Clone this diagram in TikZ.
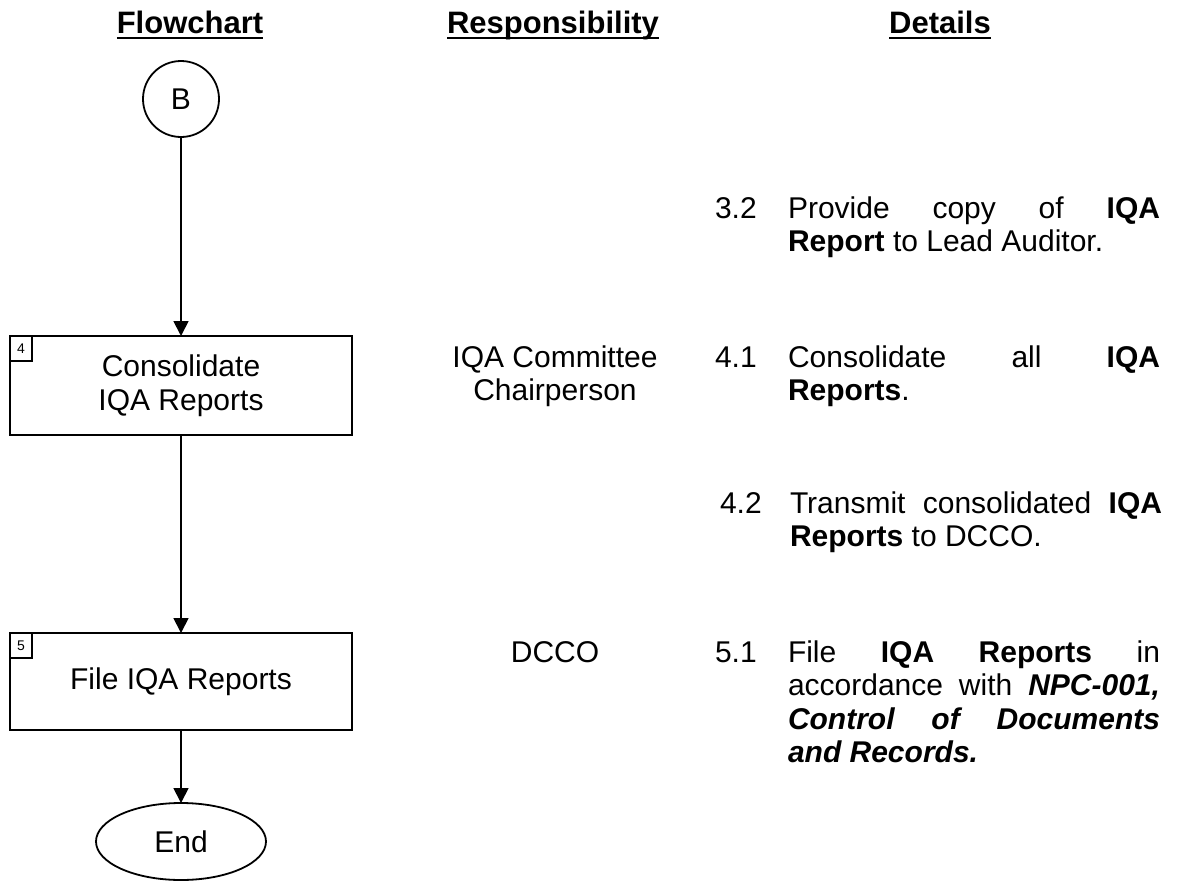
\documentclass[tikz,border=0pt]{standalone}
\usepackage{fontspec}
\setmainfont{Liberation Sans}
\usetikzlibrary{arrows.meta,shapes.geometric}
\tolerance=10000
\hbadness=10000
\begin{document}
\begin{tikzpicture}[x=1pt,y=-1pt,
  every node/.style={inner sep=0pt, outer sep=0pt},
  body/.style={font=\fontsize{30}{33.5}\selectfont},
  hdr/.style={font=\fontsize{31}{34}\selectfont\bfseries, anchor=base},
  procbox/.style={draw, line width=1.8pt, minimum width=342pt, align=center, font=\fontsize{30}{33.5}\selectfont},
  numbox/.style={draw, line width=1.2pt, minimum width=22pt, minimum height=25pt, font=\fontsize{14}{16}\selectfont, anchor=north west},
  flow/.style={line width=1.8pt, -{Triangle[width=15pt,length=15pt]}},
  detail/.style={font=\fontsize{30}{33.5}\selectfont, text width=372pt, align=justify, anchor=base west},
  numlbl/.style={font=\fontsize{30}{33.5}\selectfont, anchor=base west},
  resp/.style={font=\fontsize{30}{33.5}\selectfont, align=center, anchor=base},
  uline/.style={line width=2.5pt}
]
\useasboundingbox (0,0) rectangle (1189,881);

% headers
\node[hdr] (h1) at (190,33) {Flowchart};
\node[hdr] (h2) at (553,33) {Responsibility};
\node[hdr] (h3) at (940,33) {Details};
\draw[uline] ([yshift=-5pt]h1.base west) -- ([yshift=-5pt]h1.base east);
\draw[uline] ([yshift=-5pt]h2.base west) -- ([yshift=-5pt]h2.base east);
\draw[uline] ([yshift=-5pt]h3.base west) -- ([yshift=-5pt]h3.base east);

% flowchart
\node[draw, circle, line width=1.8pt, minimum size=76pt, body] (B) at (181,99) {B};
\node[procbox, minimum height=99pt] (b4) at (181,385.5) {Consolidate\\IQA Reports};
\node[numbox] (n4) at (b4.north west) {4};
\node[procbox, minimum height=97pt] (b5) at (181,681.5) {File IQA Reports};
\node[numbox] (n5) at (b5.north west) {5};
\node[draw, ellipse, line width=1.8pt, minimum width=170pt, minimum height=77pt, body] (E) at (181,841.5) {End};

\draw[flow] (B.south) -- (b4.north);
\draw[flow] (b4.south) -- (b5.north);
\draw[flow] (b5.south) -- (E.north);

% responsibility
\node[resp] (r4) at (555,400.5) {IQA Committee\\Chairperson};
\node[resp] (r5) at (555,662) {DCCO};

% details
\node[numlbl] (d32n) at (715,218) {3.2};
\node[detail] (d32) at (788,218) {Provide copy of \textbf{IQA}\linebreak \textbf{Report} to Lead Auditor.};
\node[numlbl] (d41n) at (715,367) {4.1};
\node[detail] (d41) at (788,367) {Consolidate all \textbf{IQA}\linebreak \textbf{Reports}.};
\node[numlbl] (d42n) at (720,513) {4.2};
\node[detail] (d42) at (790,513) {Transmit consolidated \textbf{IQA}\linebreak \textbf{Reports} to DCCO.};
\node[numlbl] (d51n) at (715,662) {5.1};
\node[detail] (d51) at (788,662) {File \textbf{IQA Reports} in\linebreak accordance with \textbf{\textit{NPC-001,}}\linebreak \textbf{\textit{Control of Documents}}\linebreak \textbf{\textit{and Records.}}};
\end{tikzpicture}
\end{document}
